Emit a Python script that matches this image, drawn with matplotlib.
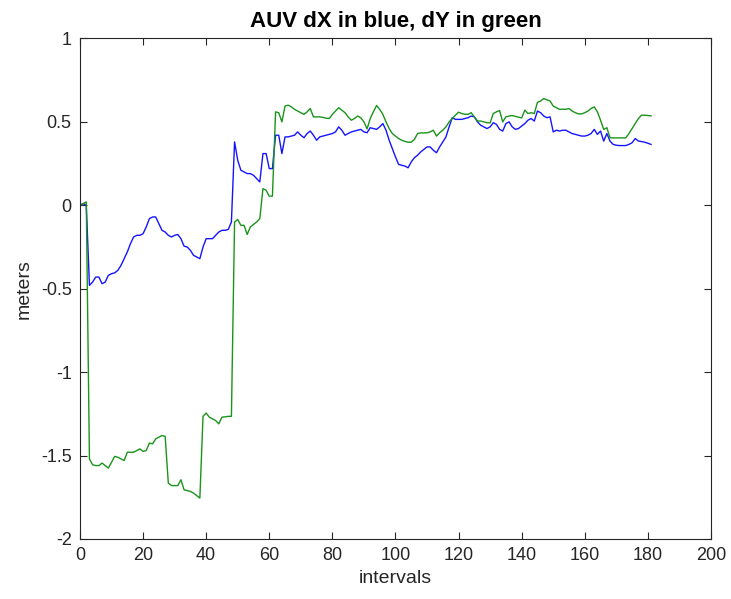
import numpy as np
import matplotlib
matplotlib.use("Agg")
import matplotlib.pyplot as plt

# -----------------------------
# data
# -----------------------------
intervals = np.arange(0, 182)

dx_blue = [
    0.0, 0.01, 0.0, -0.48, -0.46, -0.43, -0.43, -0.47, -0.46, -0.42,
    -0.41, -0.405, -0.39, -0.36, -0.32, -0.28, -0.23, -0.19, -0.18, -0.18,
    -0.17, -0.13, -0.08, -0.07, -0.07, -0.11, -0.15, -0.16, -0.18, -0.19,
    -0.18, -0.175, -0.2, -0.245, -0.25, -0.27, -0.3, -0.31, -0.32, -0.25,
    -0.2, -0.2, -0.2, -0.18, -0.16, -0.15, -0.15, -0.145, -0.1, 0.38,
    0.27, 0.21, 0.2, 0.19, 0.19, 0.18, 0.16, 0.14, 0.31, 0.31,
    0.22, 0.22, 0.42, 0.42, 0.31, 0.41, 0.41, 0.415, 0.42, 0.44,
    0.42, 0.405, 0.43, 0.445, 0.42, 0.39, 0.41, 0.415, 0.42, 0.425,
    0.43, 0.44, 0.47, 0.45, 0.42, 0.43, 0.44, 0.445, 0.45, 0.455,
    0.44, 0.435, 0.465, 0.46, 0.455, 0.47, 0.49, 0.45, 0.39, 0.34,
    0.29, 0.245, 0.24, 0.235, 0.225, 0.26, 0.285, 0.30, 0.32, 0.335,
    0.35, 0.35, 0.33, 0.315, 0.35, 0.38, 0.41, 0.47, 0.525, 0.515,
    0.515, 0.515, 0.52, 0.525, 0.535, 0.53, 0.5, 0.48, 0.47, 0.46,
    0.47, 0.495, 0.485, 0.455, 0.445, 0.49, 0.5, 0.47, 0.455, 0.46,
    0.475, 0.49, 0.51, 0.52, 0.505, 0.565, 0.555, 0.535, 0.525, 0.53,
    0.44, 0.45, 0.445, 0.45, 0.45, 0.44, 0.43, 0.425, 0.42, 0.415,
    0.415, 0.42, 0.43, 0.455, 0.425, 0.445, 0.385, 0.43, 0.385, 0.365,
    0.36, 0.358, 0.358, 0.358, 0.365, 0.375, 0.4, 0.385, 0.382, 0.378,
    0.372, 0.365,
]

dy_green = [
    0.0, 0.01, 0.02, -1.52, -1.555, -1.56, -1.56, -1.545, -1.56, -1.575,
    -1.54, -1.505, -1.51, -1.52, -1.53, -1.48, -1.48, -1.48, -1.47, -1.46,
    -1.475, -1.47, -1.425, -1.43, -1.4, -1.39, -1.38, -1.385, -1.665, -1.68,
    -1.68, -1.68, -1.645, -1.705, -1.71, -1.715, -1.725, -1.74, -1.755, -1.265,
    -1.245, -1.27, -1.28, -1.29, -1.31, -1.27, -1.268, -1.265, -1.265, -0.1,
    -0.085, -0.12, -0.12, -0.175, -0.13, -0.115, -0.1, -0.08, 0.1, 0.09,
    0.055, 0.055, 0.56, 0.555, 0.5, 0.595, 0.6, 0.59, 0.575, 0.565,
    0.555, 0.545, 0.56, 0.58, 0.53, 0.53, 0.53, 0.527, 0.522, 0.52,
    0.545, 0.565, 0.585, 0.57, 0.555, 0.53, 0.51, 0.52, 0.535, 0.525,
    0.5, 0.458, 0.52, 0.56, 0.598, 0.575, 0.545, 0.5, 0.46, 0.43,
    0.415, 0.4, 0.39, 0.383, 0.378, 0.378, 0.395, 0.43, 0.434, 0.434,
    0.434, 0.44, 0.45, 0.415, 0.435, 0.45, 0.47, 0.5, 0.52, 0.54,
    0.558, 0.55, 0.546, 0.545, 0.555, 0.53, 0.505, 0.505, 0.5, 0.495,
    0.494, 0.55, 0.56, 0.568, 0.5, 0.53, 0.535, 0.538, 0.533, 0.528,
    0.524, 0.57, 0.55, 0.555, 0.55, 0.617, 0.625, 0.64, 0.632, 0.625,
    0.595, 0.585, 0.575, 0.576, 0.575, 0.58, 0.565, 0.555, 0.548, 0.548,
    0.555, 0.565, 0.58, 0.59, 0.56, 0.51, 0.455, 0.465, 0.405, 0.404,
    0.404, 0.404, 0.404, 0.404, 0.43, 0.46, 0.49, 0.52, 0.54, 0.54,
    0.538, 0.536,
]

x_ticks = [0, 20, 40, 60, 80, 100, 120, 140, 160, 180, 200]
y_ticks = [-2, -1.5, -1, -0.5, 0, 0.5, 1]
y_tick_labels = ["-2", "-1.5", "-1", "-0.5", "0", "0.5", "1"]

# -----------------------------
# figure
# -----------------------------
plt.rcParams['font.family'] = ['Liberation Sans', 'DejaVu Sans']
cinza = '#262626'

fig = plt.figure(figsize=(7.31, 5.99), dpi=100)
ax = fig.add_axes([0.1094, 0.1002, 0.8632, 0.8356])

ax.plot(intervals, dx_blue, color='#1414ff', linewidth=1.0)
ax.plot(intervals, dy_green, color='#1a941a', linewidth=1.0)

ax.set_xlim(0, 200)
ax.set_ylim(-2, 1)
ax.set_xticks(x_ticks)
ax.set_yticks(y_ticks)
ax.set_yticklabels(y_tick_labels)

ax.tick_params(direction='in', top=True, right=True, length=5, width=0.8,
               colors=cinza, labelsize=13, pad=6)
for sp in ax.spines.values():
    sp.set_color(cinza)
    sp.set_linewidth(0.8)

ax.set_xlabel("intervals", fontsize=14, color=cinza, labelpad=4)
ax.set_ylabel("meters", fontsize=14, color=cinza, labelpad=6)
ax.set_title("AUV dX in blue, dY in green", fontsize=16, fontweight='bold',
             color='black', pad=8)

fig.savefig("out.png", dpi=100)
